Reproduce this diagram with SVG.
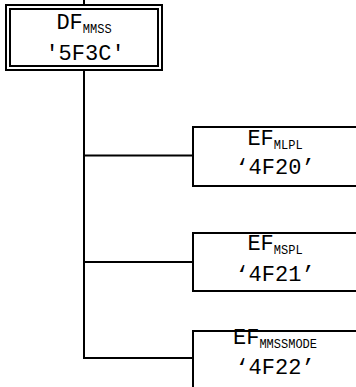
<svg xmlns="http://www.w3.org/2000/svg" width="356" height="387" viewBox="0 0 356 387">
<style>
.box{fill:#fff;stroke:#000;stroke-width:2}
.ln{fill:none;stroke:#000;stroke-width:2}
.t{font-family:"Courier New","Liberation Mono",monospace;font-size:22px;fill:#000;text-anchor:middle}
.s{font-size:12px}
</style>
<rect width="356" height="387" fill="#fff"/>
<g id="connectors">
<line class="ln" x1="84" y1="0" x2="84" y2="6"/>
<line class="ln" x1="84" y1="70" x2="84" y2="359"/>
<line class="ln" x1="83" y1="155.5" x2="194" y2="155.5"/>
<line class="ln" x1="83" y1="262" x2="194" y2="262"/>
<line class="ln" x1="83" y1="358" x2="194" y2="358"/>
</g>
<g id="DF_MMSS">
<rect class="box" x="6" y="5" width="156" height="65"/>
<rect class="box" x="10" y="9" width="148" height="57"/>
<text class="t" x="84" y="29">DF<tspan class="s" dy="4">MMSS</tspan></text>
<text class="t" x="85" y="60">'5F3C'</text>
</g>
<g id="EF_MLPL">
<rect class="box" x="193" y="127" width="166" height="59"/>
<text class="t" x="275" y="145">EF<tspan class="s" dy="4">MLPL</tspan></text>
<text class="t" x="275" y="174">‘4F20’</text>
</g>
<g id="EF_MSPL">
<rect class="box" x="193" y="233" width="166" height="58"/>
<text class="t" x="275" y="250">EF<tspan class="s" dy="4">MSPL</tspan></text>
<text class="t" x="275" y="281">‘4F21’</text>
</g>
<g id="EF_MMSSMODE">
<rect class="box" x="193" y="331" width="166" height="70"/>
<text class="t" x="275" y="344">EF<tspan class="s" dy="4">MMSSMODE</tspan></text>
<text class="t" x="275" y="374">‘4F22’</text>
</g>
</svg>
